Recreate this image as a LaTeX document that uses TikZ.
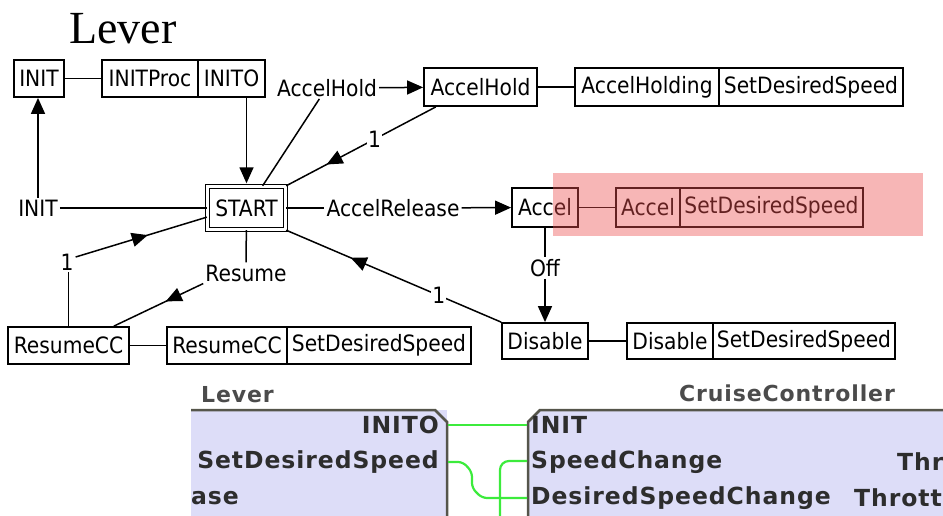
\documentclass[tikz,border=0pt]{standalone}
\usepackage{fontspec}
\setmainfont{Liberation Serif}
\newfontfamily\gen{DejaVu Sans}[FakeStretch=0.9]
\newfontfamily\blk{DejaVu Sans}[LetterSpace=4]
\usetikzlibrary{arrows.meta,decorations.markings,calc}
\definecolor{lav}{RGB}{221,221,248}
\definecolor{bord}{RGB}{85,85,75}
\definecolor{grn}{RGB}{60,235,60}
\definecolor{txg}{RGB}{45,45,45}
\definecolor{ttg}{RGB}{75,75,75}
\definecolor{hl}{RGB}{236,80,80}
\begin{document}
\begin{tikzpicture}[x=1pt,y=-1pt,
  box/.style={draw, line width=1.8pt, inner sep=1pt, minimum height=37pt, font=\gen\fontsize{22.5}{26}\selectfont},
  lbl/.style={inner sep=2pt, font=\gen\fontsize{22.5}{26}\selectfont},
  one/.style={fill=white, inner sep=1pt, font=\gen\fontsize{22.5}{26}\selectfont},
  conn/.style={line width=1.5pt},
  arr/.style={conn, -{Triangle[length=16pt,width=14pt]}},
  midarr/.style={conn, postaction={decorate}, decoration={markings, mark=at position #1 with {\arrow{Triangle[length=16pt,width=14pt]}}}},
  fbtext/.style={inner sep=0pt, text=txg, font=\blk\bfseries\fontsize{23.5}{25}\selectfont},
  fbtitle/.style={inner sep=0pt, text=ttg, font=\blk\bfseries\fontsize{22}{24}\selectfont},
  fbline/.style={draw=bord, line width=2.5pt},
  wire/.style={draw=grn, line width=2.2pt}
]
\useasboundingbox (0,0) rectangle (943,515);

% title
\node[anchor=base west, inner sep=0pt, font=\fontsize{46}{50}\selectfont] (title) at (69,43) {Lever};

% top row
\node[box, minimum width=50pt] (INIT) at (39,78.5) {INIT};
\node[box, minimum width=96pt] (INITProc) at (150,78.5) {INITProc};
\node[box, minimum width=67pt] (INITO) at (231.5,78.5) {INITO};
\node[box, double, double distance=2.5pt, line width=1.4pt, minimum width=78pt, minimum height=43pt] (START) at (246.5,208) {START};

\node[lbl] (ahl) at (327,88) {AccelHold};
\node[box, minimum width=113pt, minimum height=38pt] (AH) at (480.5,87) {AccelHold};
\node[box, minimum width=144pt, minimum height=38pt] (AHg) at (647,87) {AccelHolding};
\node[box, minimum width=184pt, minimum height=38pt] (AHs) at (811,87) {SetDesiredSpeed};

\node[lbl] (initl) at (38,208) {INIT};
\node[lbl] (arl) at (393,208) {AccelRelease};
\node[box, minimum width=66pt, minimum height=39pt] (AC) at (545,207.5) {Accel};
\node[box, minimum width=64pt, minimum height=39pt] (ACa) at (648,207.5) {Accel};
\node[box, minimum width=183pt, minimum height=39pt] (ACs) at (771.5,207.5) {SetDesiredSpeed};

\node[lbl] (off) at (545,268) {Off};
\node[box, minimum width=86pt, minimum height=36pt] (DI) at (545,341) {Disable};
\node[box, minimum width=86pt, minimum height=36pt] (DIa) at (670,341) {Disable};
\node[box, minimum width=182pt, minimum height=36pt] (DIs) at (804,341) {SetDesiredSpeed};

\node[lbl] (res) at (246,273) {Resume};
\node[box, minimum width=121pt] (RC) at (68.5,345.5) {ResumeCC};
\node[box, minimum width=120pt] (RCa) at (227,345.5) {ResumeCC};
\node[box, minimum width=184pt] (RCs) at (379,345.5) {SetDesiredSpeed};
\node[lbl] (one3) at (67,262) {1};

% connectors
\draw[conn] (INIT) -- (INITProc);
\draw[arr, shorten >=2.5pt] (START.north |- INITO.south) -- (START.north);
\draw[conn] (START.54) -- (ahl.235);
\draw[arr] (ahl) -- (AH);
\draw[conn] (AH) -- (AHg);
\draw[midarr=0.73] (AH.204) -- node[one, pos=0.41] (one1) {1} (START.north east);

\draw[arr] (initl) -- (initl |- INIT.south);
\draw[conn] (initl) -- (START.west);
\draw[conn] (START) -- (arl);
\draw[arr] (arl) -- (AC);
\draw[conn] (AC) -- (ACa);
\draw[conn] (AC) -- (off);
\draw[arr] (off) -- (DI);
\draw[conn] (DI) -- (DIa);
\draw[midarr=0.70] (DI.north west) -- node[one, pos=0.29] (one2) {1} (START.south east);

\draw[conn] (START) -- (res);
\draw[midarr=0.42] (res.south west) -- ($(RC.north east)+(-16,0)$);
\draw[conn] (RC.north) -- (RC.north |- one3.south);
\draw[midarr=0.55] (one3.30) -- (START.193);
\draw[conn] (RC) -- (RCa);

% highlight
\fill[hl, fill opacity=0.42] (553,173) rectangle (923,236);

% function block screenshot
\begin{scope}
\clip (0,378) rectangle (943,515);
\fill[lav] (191,410) rectangle (447,520);
\draw[fbline] (191,410) -- (435,410) -- (447,422) -- (447,520);
\fill[lav] (528,422) -- (540,410) -- (950,410) -- (950,520) -- (528,520) -- cycle;
\draw[fbline] (528,520) -- (528,422) -- (540,410) -- (950,410);

\draw[wire] (448,425) -- (527,425);
\draw[wire, rounded corners=5pt] (448,462) -- (463,462) -- (472,472) -- (472,488) -- (482,498) -- (527,498);
\draw[wire, rounded corners=9pt] (527,461) -- (500,461) -- (500,520);

\node[fbtitle, anchor=west] (lvr) at (201,395) {Lever};
\node[fbtitle, anchor=west] (cc) at (679,393) {CruiseController};
\node[fbtext, anchor=east] (o1) at (439,425) {INITO};
\node[fbtext, anchor=east] (o2) at (439,462) {SetDesiredSpeed};
\node[fbtext, anchor=west] (o3) at (191,498) {ase};
\node[fbtext, anchor=west] (i1) at (531,425) {INIT};
\node[fbtext, anchor=west] (i2) at (531,462) {SpeedChange};
\node[fbtext, anchor=west] (i3) at (531,498) {DesiredSpeedChange};
\node[fbtext, anchor=west] (q1) at (897,462) {Thr};
\node[fbtext, anchor=west] (q2) at (854,498) {Thrott};
\end{scope}
\end{tikzpicture}
\end{document}
